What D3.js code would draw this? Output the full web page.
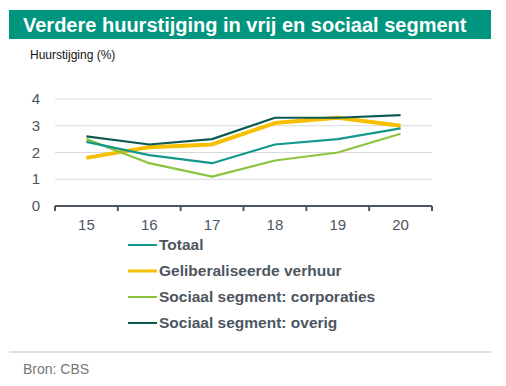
<!DOCTYPE html>
<html>
<head>
<meta charset="utf-8">
<script src="https://cdn.jsdelivr.net/npm/d3@7"></script>
<style>
  body { margin: 0; background: #fff; }
  svg { font-family: "Liberation Sans", Arial, sans-serif; }
</style>
</head>
<body>
<svg class="chart" width="506" height="386"></svg>
<script>
//data
const years = ["15", "16", "17", "18", "19", "20"]
const totaal = [2.4, 1.9, 1.6, 2.3, 2.5, 2.9]
const geliberaliseerd = [1.8, 2.2, 2.3, 3.1, 3.3, 3.0]
const corporaties = [2.5, 1.6, 1.1, 1.7, 2.0, 2.7]
const overig = [2.6, 2.3, 2.5, 3.3, 3.3, 3.4]
const yTicks = [0, 1, 2, 3, 4]

const series = [
    { name: "Totaal", values: totaal, color: "#12998b", width: 2.2 },
    { name: "Geliberaliseerde verhuur", values: geliberaliseerd, color: "#f6bf00", width: 4 },
    { name: "Sociaal segment: corporaties", values: corporaties, color: "#8cc43f", width: 2.2 },
    { name: "Sociaal segment: overig", values: overig, color: "#0d5a52", width: 2.2 }
]
// draw order: yellow underneath
const drawOrder = [1, 2, 0, 3]

//dimensions
const margin = { top: 99, right: 74, bottom: 180, left: 55 }
const w = 506
const h = 386
const svg = d3.select('.chart')

//title bar
svg.append('rect')
    .attr('x', 9).attr('y', 10)
    .attr('width', 482).attr('height', 29)
    .attr('fill', '#00957f')
svg.append('text')
    .attr('x', 23).attr('y', 32)
    .attr('fill', '#fff')
    .style('font-size', '20px')
    .style('font-weight', 'bold')
    .text('Verdere huurstijging in vrij en sociaal segment')

svg.append('text')
    .attr('x', 30).attr('y', 59)
    .attr('fill', '#111')
    .style('font-size', '12px')
    .text('Huurstijging (%)')

//scales
const xScale = d3.scaleBand()
    .domain(years)
    .range([margin.left, w - margin.right])
const yScale = d3.scaleLinear()
    .domain([0, 4])
    .range([206, margin.top])

//gridlines
svg.append('g')
    .selectAll('line')
    .data(yTicks.filter(d => d > 0))
    .join('line')
    .attr('x1', margin.left)
    .attr('x2', w - margin.right)
    .attr('y1', d => yScale(d))
    .attr('y2', d => yScale(d))
    .attr('stroke', '#d9d9d9')
    .attr('stroke-width', 1)

//y labels
svg.append('g')
    .selectAll('text')
    .data(yTicks)
    .join('text')
    .attr('x', 40)
    .attr('y', d => yScale(d) + 5)
    .attr('text-anchor', 'end')
    .attr('fill', '#4d5660')
    .style('font-size', '15px')
    .text(d => d)

//x axis
const xAxisG = svg.append('g')
xAxisG.append('line')
    .attr('x1', margin.left).attr('x2', w - margin.right)
    .attr('y1', yScale(0)).attr('y2', yScale(0))
    .attr('stroke', '#4d5660').attr('stroke-width', 2)
const bounds = years.map(d => xScale(d)).concat([xScale(years[years.length - 1]) + xScale.bandwidth()])
xAxisG.selectAll('.tick')
    .data(bounds)
    .join('line')
    .attr('x1', d => d).attr('x2', d => d)
    .attr('y1', yScale(0)).attr('y2', yScale(0) + 5)
    .attr('stroke', '#4d5660').attr('stroke-width', 2)
xAxisG.selectAll('text')
    .data(years)
    .join('text')
    .attr('x', d => xScale(d) + xScale.bandwidth() / 2)
    .attr('y', 230)
    .attr('text-anchor', 'middle')
    .attr('fill', '#4d5660')
    .style('font-size', '15px')
    .text(d => d)

//lines
const line = d3.line()
    .x((d, i) => xScale(years[i]) + xScale.bandwidth() / 2)
    .y(d => yScale(d))

svg.append('g')
    .selectAll('path')
    .data(drawOrder.map(i => series[i]))
    .join('path')
    .attr('d', d => line(d.values))
    .attr('fill', 'none')
    .attr('stroke', d => d.color)
    .attr('stroke-width', d => d.width)
    .attr('stroke-linejoin', 'round')

//legend
const legend = svg.append('g')
    .selectAll('g')
    .data(series)
    .join('g')
    .attr('transform', (d, i) => `translate(128, ${245 + i * 26})`)
legend.append('line')
    .attr('x1', 0).attr('x2', 29)
    .attr('y1', 0).attr('y2', 0)
    .attr('stroke', d => d.color)
    .attr('stroke-width', d => d.name.startsWith('Geliberaliseerde') ? 3 : 2)
legend.append('text')
    .attr('x', 31)
    .attr('y', 5)
    .attr('fill', '#4d5660')
    .style('font-size', '15.5px')
    .style('font-weight', 'bold')
    .text(d => d.name)

//footer
svg.append('line')
    .attr('x1', 9).attr('x2', 491)
    .attr('y1', 352).attr('y2', 352)
    .attr('stroke', '#bdbdbd').attr('stroke-width', 1)
svg.append('text')
    .attr('x', 23).attr('y', 374)
    .attr('fill', '#777')
    .style('font-size', '14px')
    .text('Bron: CBS')
</script>
</body>
</html>
